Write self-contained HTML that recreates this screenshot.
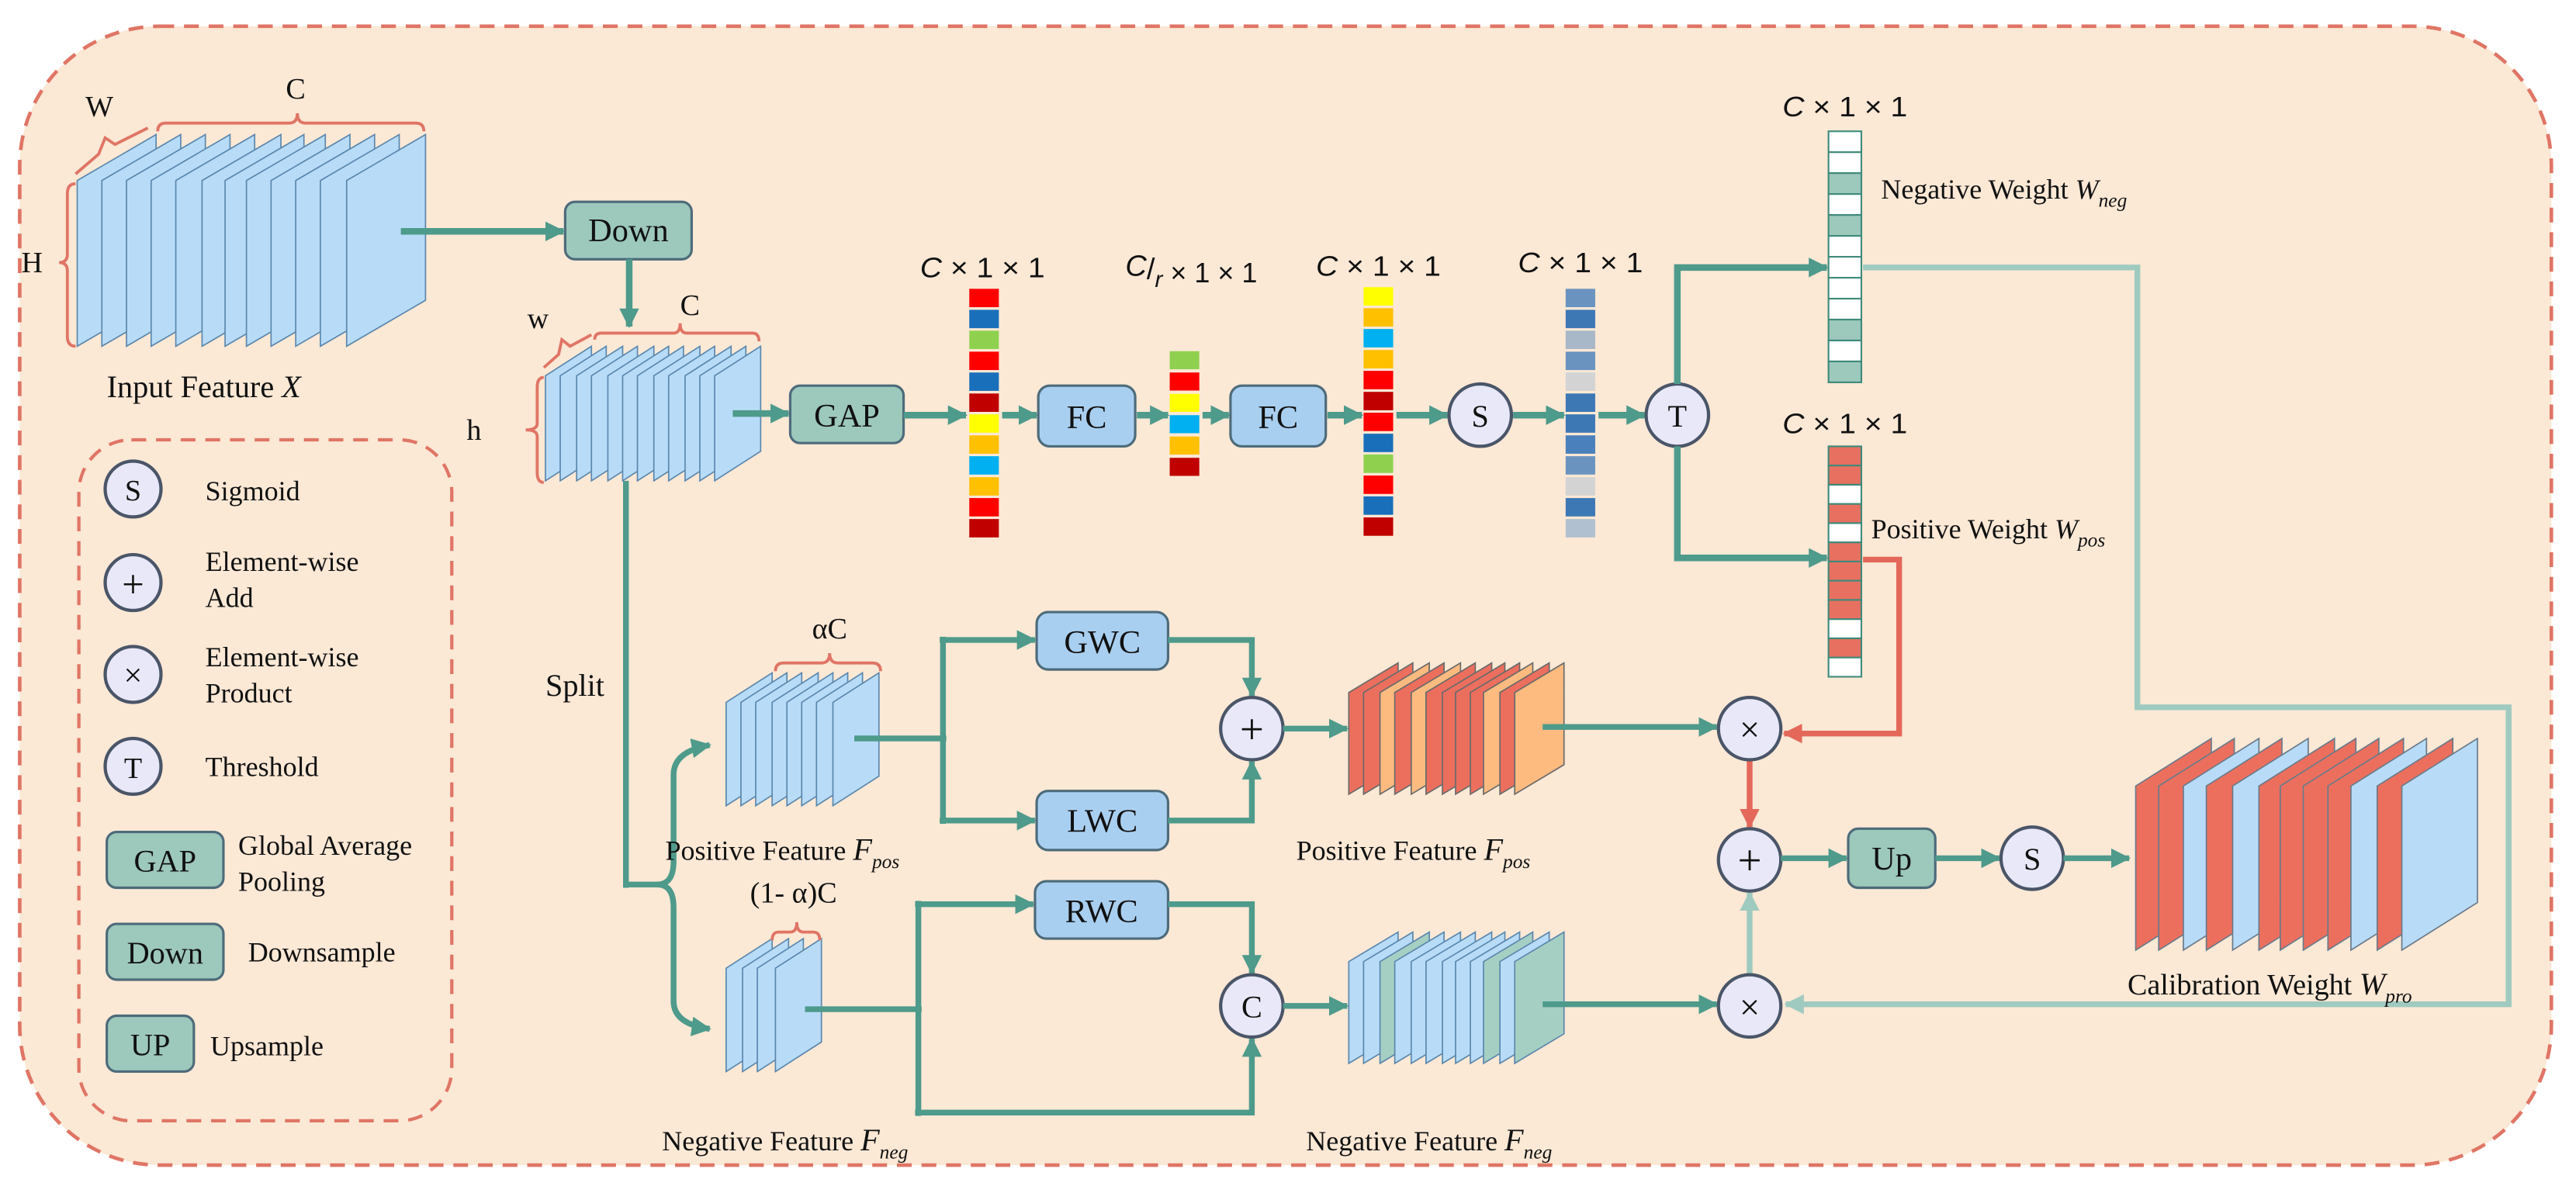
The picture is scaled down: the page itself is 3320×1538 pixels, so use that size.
<!DOCTYPE html>
<html><head><meta charset="utf-8"><style>
html,body{margin:0;padding:0;background:#fff;}
svg{display:block;}
text{font-family:"Liberation Serif","Times New Roman",serif;fill:#111;}
.m{font-family:"Liberation Sans","DejaVu Sans",sans-serif;font-size:17px;}
</style></head><body>
<svg width="3320" height="1538" viewBox="0 0 1568 727" preserveAspectRatio="none" xmlns="http://www.w3.org/2000/svg" font-family="Liberation Serif, serif">
<defs>
<marker id="a" markerWidth="12" markerHeight="12" refX="11" refY="6" orient="auto" markerUnits="userSpaceOnUse"><path d="M0,0 L12,6 L0,12 z" fill="#4e9a8b"/></marker>
<marker id="al" markerWidth="12" markerHeight="12" refX="11" refY="6" orient="auto" markerUnits="userSpaceOnUse"><path d="M0,0 L12,6 L0,12 z" fill="#9fcabf"/></marker>
<marker id="ar" markerWidth="12" markerHeight="12" refX="11" refY="6" orient="auto" markerUnits="userSpaceOnUse"><path d="M0,0 L12,6 L0,12 z" fill="#e4685a"/></marker>
<polygon id="pX" points="47,110 95,82 95,183 47,211" stroke="#5b87ad" stroke-width="0.8"/>
<polygon id="pS" points="332,229 360,211 360,275 332,293" stroke="#5b87ad" stroke-width="0.8"/>
<polygon id="pP" points="442,428 470,410 470,473 442,491" stroke="#5b87ad" stroke-width="0.8"/>
<polygon id="pN" points="442,590 470,572 470,635 442,653" stroke="#5b87ad" stroke-width="0.8"/>
<polygon id="pO" points="821,422 851,404 851,466 821,484" stroke="#6a6a6a" stroke-width="0.8"/>
<polygon id="pQ" points="821,586 851,568 851,630 821,648" stroke="#5b87ad" stroke-width="0.8"/>
<polygon id="pC" points="1300,479 1346,450 1346,550 1300,579" stroke="#6a7a8a" stroke-width="0.8"/>
</defs>
<rect width="1568" height="727" fill="#fff"/>
<rect x="12" y="16" width="1541" height="694" rx="85" fill="#fbe8d5" stroke="#e07565" stroke-width="2.2" stroke-dasharray="9,6"/>
<rect x="48" y="268" width="227" height="415" rx="32" fill="none" stroke="#e07565" stroke-width="2" stroke-dasharray="9,6"/>

<!-- input X -->
<g fill="#b8dcf8">
<use href="#pX"/><use href="#pX" x="15"/><use href="#pX" x="30"/><use href="#pX" x="45"/><use href="#pX" x="60"/><use href="#pX" x="76"/><use href="#pX" x="90"/><use href="#pX" x="103"/><use href="#pX" x="118"/><use href="#pX" x="133"/><use href="#pX" x="148"/><use href="#pX" x="164"/>
</g>
<g fill="none" stroke="#e07565" stroke-width="1.8">
<path d="M46,112 Q41,112 41,118 L41,155 Q41,160 36,160 Q41,160 41,165 L41,205 Q41,211 46,211"/>
<path d="M46,106 L60,94 L64,84 L70,88 L90,78"/>
<path d="M96,80 Q96,75 101,75 L176,75 Q181,75 181,69 Q181,75 186,75 L253,75 Q258,75 258,80"/>
</g>
<text x="13" y="166" font-size="18">H</text>
<text x="52" y="71" font-size="18">W</text>
<text x="174" y="60" font-size="18">C</text>
<text x="65" y="242" font-size="19">Input Feature <tspan font-style="italic">X</tspan></text>

<!-- Down -->
<rect x="344" y="123" width="77" height="35" rx="6" fill="#9dc8bc" stroke="#4d6b7a" stroke-width="1.5"/>
<text x="382.5" y="147" font-size="20" text-anchor="middle">Down</text>
<line x1="244" y1="141" x2="343" y2="141" stroke="#4e9a8b" stroke-width="4" marker-end="url(#a)"/>
<line x1="383" y1="158" x2="383" y2="199" stroke="#4e9a8b" stroke-width="4" marker-end="url(#a)"/>

<!-- small feature -->
<g fill="#b8dcf8">
<use href="#pS"/><use href="#pS" x="9"/><use href="#pS" x="19"/><use href="#pS" x="28"/><use href="#pS" x="38"/><use href="#pS" x="47"/><use href="#pS" x="56"/><use href="#pS" x="66"/><use href="#pS" x="75"/><use href="#pS" x="85"/><use href="#pS" x="94"/><use href="#pS" x="103"/>
</g>
<g fill="none" stroke="#e07565" stroke-width="1.8">
<path d="M331,230 Q327,230 327,236 L327,258 Q327,262 320,262 Q327,262 327,266 L327,288 Q327,294 331,294"/>
<path d="M331,224 L340,216 L342,207 L347,211 L360,204"/>
<path d="M362,207 Q362,203 366,203 L410,203 Q414,203 414,197 Q414,203 418,203 L458,203 Q462,203 462,208"/>
</g>
<text x="284" y="268" font-size="18">h</text>
<text x="321" y="200" font-size="18">w</text>
<text x="414" y="192" font-size="18">C</text>

<!-- GAP -->
<line x1="446" y1="252" x2="480" y2="252" stroke="#4e9a8b" stroke-width="4" marker-end="url(#a)"/>
<rect x="481" y="235" width="69" height="35" rx="6" fill="#9dc8bc" stroke="#4d6b7a" stroke-width="1.5"/>
<text x="515.5" y="260" font-size="20" text-anchor="middle">GAP</text>
<line x1="550" y1="253" x2="588" y2="253" stroke="#4e9a8b" stroke-width="4" marker-end="url(#a)"/>

<!-- vec1 -->
<g>
<rect x="590" y="176" width="18" height="11.2" fill="#ff0000"/>
<rect x="590" y="188.8" width="18" height="11.2" fill="#1a6fba"/>
<rect x="590" y="201.5" width="18" height="11.2" fill="#8fd14f"/>
<rect x="590" y="214.3" width="18" height="11.2" fill="#ff0000"/>
<rect x="590" y="227" width="18" height="11.2" fill="#1a6fba"/>
<rect x="590" y="239.8" width="18" height="11.2" fill="#c00000"/>
<rect x="590" y="252.5" width="18" height="11.2" fill="#ffff00"/>
<rect x="590" y="265.3" width="18" height="11.2" fill="#ffc000"/>
<rect x="590" y="278" width="18" height="11.2" fill="#00b0f0"/>
<rect x="590" y="290.8" width="18" height="11.2" fill="#ffc000"/>
<rect x="590" y="303.5" width="18" height="11.2" fill="#ff0000"/>
<rect x="590" y="316.3" width="18" height="11.2" fill="#c00000"/>
</g>
<text x="560" y="169" class="m" textLength="76" lengthAdjust="spacingAndGlyphs"><tspan font-style="italic">C</tspan> × 1 × 1</text>
<line x1="610" y1="253" x2="631" y2="253" stroke="#4e9a8b" stroke-width="4" marker-end="url(#a)"/>
<rect x="632" y="235" width="59" height="37" rx="7" fill="#a9cff0" stroke="#4d6b7a" stroke-width="1.5"/>
<text x="661.5" y="261" font-size="20" text-anchor="middle">FC</text>
<line x1="692" y1="253" x2="711" y2="253" stroke="#4e9a8b" stroke-width="4" marker-end="url(#a)"/>
<!-- vec2 -->
<rect x="712" y="214" width="18" height="11" fill="#8fd14f"/>
<rect x="712" y="227" width="18" height="11" fill="#ff0000"/>
<rect x="712" y="240" width="18" height="11" fill="#ffff00"/>
<rect x="712" y="253" width="18" height="11" fill="#00b0f0"/>
<rect x="712" y="266" width="18" height="11" fill="#ffc000"/>
<rect x="712" y="279" width="18" height="11" fill="#c00000"/>
<text x="685" y="172" class="m"><tspan font-style="italic" font-size="18" dy="-4">C</tspan><tspan font-size="18" dy="2">/</tspan><tspan font-style="italic" font-size="14" dy="5">r</tspan><tspan dy="-3"> × 1 × 1</tspan></text>
<line x1="732" y1="253" x2="748" y2="253" stroke="#4e9a8b" stroke-width="4" marker-end="url(#a)"/>
<rect x="749" y="235" width="58" height="37" rx="7" fill="#a9cff0" stroke="#4d6b7a" stroke-width="1.5"/>
<text x="778" y="261" font-size="20" text-anchor="middle">FC</text>
<line x1="808" y1="253" x2="829" y2="253" stroke="#4e9a8b" stroke-width="4" marker-end="url(#a)"/>
<!-- vec3 -->
<g>
<rect x="830" y="175" width="18" height="11.2" fill="#ffff00"/>
<rect x="830" y="187.8" width="18" height="11.2" fill="#ffc000"/>
<rect x="830" y="200.5" width="18" height="11.2" fill="#00b0f0"/>
<rect x="830" y="213.3" width="18" height="11.2" fill="#ffc000"/>
<rect x="830" y="226" width="18" height="11.2" fill="#ff0000"/>
<rect x="830" y="238.8" width="18" height="11.2" fill="#c00000"/>
<rect x="830" y="251.5" width="18" height="11.2" fill="#ff0000"/>
<rect x="830" y="264.3" width="18" height="11.2" fill="#1a6fba"/>
<rect x="830" y="277" width="18" height="11.2" fill="#8fd14f"/>
<rect x="830" y="289.8" width="18" height="11.2" fill="#ff0000"/>
<rect x="830" y="302.5" width="18" height="11.2" fill="#1a6fba"/>
<rect x="830" y="315.3" width="18" height="11.2" fill="#c00000"/>
</g>
<text x="801" y="168" class="m" textLength="76" lengthAdjust="spacingAndGlyphs"><tspan font-style="italic">C</tspan> × 1 × 1</text>
<line x1="850" y1="253" x2="881" y2="253" stroke="#4e9a8b" stroke-width="4" marker-end="url(#a)"/>
<circle cx="901" cy="253" r="19" fill="#e8e8f8" stroke="#4a5568" stroke-width="2"/>
<text x="901" y="260" font-size="19" text-anchor="middle">S</text>
<line x1="921" y1="253" x2="952" y2="253" stroke="#4e9a8b" stroke-width="4" marker-end="url(#a)"/>
<!-- vec4 -->
<g>
<rect x="953" y="176" width="18" height="11.2" fill="#6b93c0"/>
<rect x="953" y="188.8" width="18" height="11.2" fill="#3d78b5"/>
<rect x="953" y="201.5" width="18" height="11.2" fill="#a8b8c8"/>
<rect x="953" y="214.3" width="18" height="11.2" fill="#6b93c0"/>
<rect x="953" y="227" width="18" height="11.2" fill="#d3d3d3"/>
<rect x="953" y="239.8" width="18" height="11.2" fill="#3d78b5"/>
<rect x="953" y="252.5" width="18" height="11.2" fill="#3d78b5"/>
<rect x="953" y="265.3" width="18" height="11.2" fill="#4a80bb"/>
<rect x="953" y="278" width="18" height="11.2" fill="#6b93c0"/>
<rect x="953" y="290.8" width="18" height="11.2" fill="#d3d3d3"/>
<rect x="953" y="303.5" width="18" height="11.2" fill="#3d78b5"/>
<rect x="953" y="316.3" width="18" height="11.2" fill="#b0c0d0"/>
</g>
<text x="924" y="166" class="m" textLength="76" lengthAdjust="spacingAndGlyphs"><tspan font-style="italic">C</tspan> × 1 × 1</text>
<line x1="973" y1="253" x2="1001" y2="253" stroke="#4e9a8b" stroke-width="4" marker-end="url(#a)"/>
<circle cx="1021" cy="253" r="19" fill="#e8e8f8" stroke="#4a5568" stroke-width="2"/>
<text x="1021" y="260" font-size="19" text-anchor="middle">T</text>
<polyline points="1021,234 1021,163 1112,163" fill="none" stroke="#4e9a8b" stroke-width="4" marker-end="url(#a)"/>
<polyline points="1021,272 1021,340 1112,340" fill="none" stroke="#4e9a8b" stroke-width="4" marker-end="url(#a)"/>

<!-- light teal route -->
<polyline points="1134,163 1301,163 1301,431 1527,431 1527,612 1087,612" fill="none" stroke="#9fcabf" stroke-width="3.5" marker-end="url(#al)"/>

<!-- neg weight -->
<g stroke="#3f8a7a" stroke-width="1">
<rect x="1113" y="80" width="20" height="12.75" fill="#fff"/>
<rect x="1113" y="92.75" width="20" height="12.75" fill="#fff"/>
<rect x="1113" y="105.5" width="20" height="12.75" fill="#9dc8bc"/>
<rect x="1113" y="118.25" width="20" height="12.75" fill="#fff"/>
<rect x="1113" y="131" width="20" height="12.75" fill="#9dc8bc"/>
<rect x="1113" y="143.75" width="20" height="12.75" fill="#fff"/>
<rect x="1113" y="156.5" width="20" height="12.75" fill="#fff"/>
<rect x="1113" y="169.25" width="20" height="12.75" fill="#fff"/>
<rect x="1113" y="182" width="20" height="12.75" fill="#fff"/>
<rect x="1113" y="194.75" width="20" height="12.75" fill="#9dc8bc"/>
<rect x="1113" y="207.5" width="20" height="12.75" fill="#fff"/>
<rect x="1113" y="220.25" width="20" height="12.75" fill="#9dc8bc"/>
</g>
<text x="1085" y="71" class="m" textLength="76" lengthAdjust="spacingAndGlyphs"><tspan font-style="italic">C</tspan> × 1 × 1</text>
<text x="1145" y="121" font-size="17">Negative Weight <tspan font-style="italic">W</tspan><tspan font-style="italic" font-size="12" dy="5">neg</tspan></text>

<!-- red route -->
<polyline points="1134,341 1156,341 1156,447 1086,447" fill="none" stroke="#e4685a" stroke-width="3.5" marker-end="url(#ar)"/>
<!-- pos weight -->
<g stroke="#3f8a7a" stroke-width="1">
<rect x="1113" y="272" width="20" height="11.7" fill="#e87060"/>
<rect x="1113" y="283.7" width="20" height="11.7" fill="#e87060"/>
<rect x="1113" y="295.4" width="20" height="11.7" fill="#fff"/>
<rect x="1113" y="307.1" width="20" height="11.7" fill="#e87060"/>
<rect x="1113" y="318.8" width="20" height="11.7" fill="#fff"/>
<rect x="1113" y="330.5" width="20" height="11.7" fill="#e87060"/>
<rect x="1113" y="342.2" width="20" height="11.7" fill="#e87060"/>
<rect x="1113" y="353.9" width="20" height="11.7" fill="#e87060"/>
<rect x="1113" y="365.6" width="20" height="11.7" fill="#e87060"/>
<rect x="1113" y="377.3" width="20" height="11.7" fill="#fff"/>
<rect x="1113" y="389" width="20" height="11.7" fill="#e87060"/>
<rect x="1113" y="400.7" width="20" height="11.7" fill="#fff"/>
</g>
<text x="1085" y="264" class="m" textLength="76" lengthAdjust="spacingAndGlyphs"><tspan font-style="italic">C</tspan> × 1 × 1</text>
<text x="1139" y="328" font-size="17">Positive Weight <tspan font-style="italic">W</tspan><tspan font-style="italic" font-size="12" dy="5">pos</tspan></text>

<!-- split -->
<line x1="381" y1="293" x2="381" y2="541" stroke="#4e9a8b" stroke-width="3.5"/>
<path d="M381,539 L400,539 Q410,539 410,525 L410,472 Q410,458 432,454" fill="none" stroke="#4e9a8b" stroke-width="3.5" marker-end="url(#a)"/>
<path d="M400,539 Q410,539 410,553 L410,610 Q410,624 432,627" fill="none" stroke="#4e9a8b" stroke-width="3.5" marker-end="url(#a)"/>
<text x="332" y="424" font-size="19">Split</text>

<!-- pos input -->
<g fill="#b8dcf8">
<use href="#pP"/><use href="#pP" x="9"/><use href="#pP" x="18"/><use href="#pP" x="28"/><use href="#pP" x="37"/><use href="#pP" x="46"/><use href="#pP" x="55"/><use href="#pP" x="65"/>
</g>
<path d="M472,409 Q472,404 477,404 L500,404 Q505,404 505,398 Q505,404 510,404 L531,404 Q536,404 536,409" fill="none" stroke="#e07565" stroke-width="1.8"/>
<text x="505" y="389" font-size="18" text-anchor="middle">αC</text>
<text x="405" y="524" font-size="17">Positive Feature <tspan font-style="italic" font-size="19">F</tspan><tspan font-style="italic" font-size="12" dy="5">pos</tspan></text>
<line x1="520" y1="450" x2="576" y2="450" stroke="#4e9a8b" stroke-width="3.5"/>
<line x1="574" y1="388" x2="574" y2="502" stroke="#4e9a8b" stroke-width="3.5"/>
<line x1="572" y1="390" x2="630" y2="390" stroke="#4e9a8b" stroke-width="3.5" marker-end="url(#a)"/>
<line x1="572" y1="500" x2="630" y2="500" stroke="#4e9a8b" stroke-width="3.5" marker-end="url(#a)"/>
<rect x="631" y="373" width="80" height="35" rx="7" fill="#a9cff0" stroke="#4d6b7a" stroke-width="1.5"/>
<text x="671" y="398" font-size="20" text-anchor="middle">GWC</text>
<rect x="631" y="482" width="80" height="36" rx="7" fill="#a9cff0" stroke="#4d6b7a" stroke-width="1.5"/>
<text x="671" y="507" font-size="20" text-anchor="middle">LWC</text>
<polyline points="711,390 762,390 762,424" fill="none" stroke="#4e9a8b" stroke-width="3.5" marker-end="url(#a)"/>
<polyline points="711,500 762,500 762,464" fill="none" stroke="#4e9a8b" stroke-width="3.5" marker-end="url(#a)"/>
<circle cx="762" cy="444" r="19" fill="#e8e8f8" stroke="#4a5568" stroke-width="2"/>
<text x="762" y="453" font-size="26" text-anchor="middle">+</text>
<line x1="781" y1="444" x2="820" y2="444" stroke="#4e9a8b" stroke-width="3.5" marker-end="url(#a)"/>
<g>
<use href="#pO" fill="#ec6f5e"/><use href="#pO" x="9" fill="#ec6f5e"/><use href="#pO" x="19" fill="#fdbb80"/><use href="#pO" x="28" fill="#ec6f5e"/><use href="#pO" x="38" fill="#fdbb80"/><use href="#pO" x="47" fill="#ec6f5e"/><use href="#pO" x="57" fill="#ec6f5e"/><use href="#pO" x="65" fill="#ec6f5e"/><use href="#pO" x="74" fill="#ec6f5e"/><use href="#pO" x="82" fill="#fdbb80"/><use href="#pO" x="92" fill="#ec6f5e"/><use href="#pO" x="101" fill="#fdbb80"/>
</g>
<text x="789" y="524" font-size="17">Positive Feature <tspan font-style="italic" font-size="19">F</tspan><tspan font-style="italic" font-size="12" dy="5">pos</tspan></text>
<line x1="939" y1="443" x2="1045" y2="443" stroke="#4e9a8b" stroke-width="3.5" marker-end="url(#a)"/>

<!-- neg input -->
<g fill="#b8dcf8">
<use href="#pN"/><use href="#pN" x="10"/><use href="#pN" x="19"/><use href="#pN" x="30"/>
</g>
<path d="M470,573 Q470,568 474,568 L481,568 Q485,568 485,562 Q485,568 489,568 L495,568 Q499,568 499,573" fill="none" stroke="#e07565" stroke-width="1.8"/>
<text x="483" y="550" font-size="18" text-anchor="middle">(1- α)C</text>
<text x="403" y="701" font-size="17">Negative Feature <tspan font-style="italic" font-size="19">F</tspan><tspan font-style="italic" font-size="12" dy="5">neg</tspan></text>
<line x1="490" y1="615" x2="561" y2="615" stroke="#4e9a8b" stroke-width="3.5"/>
<line x1="559" y1="549" x2="559" y2="680" stroke="#4e9a8b" stroke-width="3.5"/>
<line x1="557" y1="551" x2="629" y2="551" stroke="#4e9a8b" stroke-width="3.5" marker-end="url(#a)"/>
<polyline points="557,678 762,678 762,633" fill="none" stroke="#4e9a8b" stroke-width="3.5" marker-end="url(#a)"/>
<rect x="630" y="537" width="81" height="35" rx="7" fill="#a9cff0" stroke="#4d6b7a" stroke-width="1.5"/>
<text x="670.5" y="562" font-size="20" text-anchor="middle">RWC</text>
<polyline points="711,551 762,551 762,593" fill="none" stroke="#4e9a8b" stroke-width="3.5" marker-end="url(#a)"/>
<circle cx="762" cy="613" r="19" fill="#e8e8f8" stroke="#4a5568" stroke-width="2"/>
<text x="762" y="620" font-size="19" text-anchor="middle">C</text>
<line x1="781" y1="613" x2="820" y2="613" stroke="#4e9a8b" stroke-width="3.5" marker-end="url(#a)"/>
<g>
<use href="#pQ" fill="#b8dcf8"/><use href="#pQ" x="9" fill="#b8dcf8"/><use href="#pQ" x="19" fill="#a6cfc4"/><use href="#pQ" x="28" fill="#b8dcf8"/><use href="#pQ" x="38" fill="#b8dcf8"/><use href="#pQ" x="47" fill="#b8dcf8"/><use href="#pQ" x="57" fill="#b8dcf8"/><use href="#pQ" x="65" fill="#b8dcf8"/><use href="#pQ" x="74" fill="#b8dcf8"/><use href="#pQ" x="82" fill="#a6cfc4"/><use href="#pQ" x="92" fill="#b8dcf8"/><use href="#pQ" x="101" fill="#a6cfc4"/>
</g>
<text x="795" y="701" font-size="17">Negative Feature <tspan font-style="italic" font-size="19">F</tspan><tspan font-style="italic" font-size="12" dy="5">neg</tspan></text>
<line x1="939" y1="612" x2="1045" y2="612" stroke="#4e9a8b" stroke-width="3.5" marker-end="url(#a)"/>

<!-- right fusion -->
<line x1="1065" y1="463" x2="1065" y2="504" stroke="#e4685a" stroke-width="3.5" marker-end="url(#ar)"/>
<line x1="1065" y1="593" x2="1065" y2="544" stroke="#9fcabf" stroke-width="3.5" marker-end="url(#al)"/>
<circle cx="1065" cy="444" r="19" fill="#e8e8f8" stroke="#4a5568" stroke-width="2"/>
<text x="1065" y="452" font-size="22" text-anchor="middle">×</text>
<circle cx="1065" cy="524" r="19" fill="#e8e8f8" stroke="#4a5568" stroke-width="2"/>
<text x="1065" y="533" font-size="26" text-anchor="middle">+</text>
<circle cx="1065" cy="613" r="19" fill="#e8e8f8" stroke="#4a5568" stroke-width="2"/>
<text x="1065" y="621" font-size="22" text-anchor="middle">×</text>
<line x1="1084" y1="523" x2="1124" y2="523" stroke="#4e9a8b" stroke-width="3.5" marker-end="url(#a)"/>
<rect x="1125" y="505" width="53" height="36" rx="6" fill="#9dc8bc" stroke="#4d6b7a" stroke-width="1.5"/>
<text x="1151.5" y="530" font-size="20" text-anchor="middle">Up</text>
<line x1="1178" y1="523" x2="1217" y2="523" stroke="#4e9a8b" stroke-width="3.5" marker-end="url(#a)"/>
<circle cx="1237" cy="523" r="19" fill="#e8e8f8" stroke="#4a5568" stroke-width="2"/>
<text x="1237" y="530" font-size="19" text-anchor="middle">S</text>
<line x1="1256" y1="523" x2="1296" y2="523" stroke="#4e9a8b" stroke-width="3.5" marker-end="url(#a)"/>
<g>
<use href="#pC" fill="#ec6f5e"/><use href="#pC" x="14" fill="#ec6f5e"/><use href="#pC" x="29" fill="#b8dcf8"/><use href="#pC" x="43" fill="#ec6f5e"/><use href="#pC" x="59" fill="#b8dcf8"/><use href="#pC" x="75" fill="#ec6f5e"/><use href="#pC" x="88" fill="#ec6f5e"/><use href="#pC" x="102" fill="#ec6f5e"/><use href="#pC" x="117" fill="#ec6f5e"/><use href="#pC" x="131" fill="#b8dcf8"/><use href="#pC" x="147" fill="#ec6f5e"/><use href="#pC" x="162" fill="#b8dcf8"/>
</g>
<text x="1295" y="606" font-size="18">Calibration Weight <tspan font-style="italic" font-size="19">W</tspan><tspan font-style="italic" font-size="12" dy="5">pro</tspan></text>

<!-- legend -->
<circle cx="81" cy="298" r="17" fill="#e8e8f8" stroke="#4a5568" stroke-width="2"/>
<text x="81" y="305" font-size="18" text-anchor="middle">S</text>
<text x="125" y="305" font-size="17">Sigmoid</text>
<circle cx="81" cy="355" r="17" fill="#e8e8f8" stroke="#4a5568" stroke-width="2"/>
<text x="81" y="364" font-size="24" text-anchor="middle">+</text>
<text x="125" y="348" font-size="17">Element-wise</text>
<text x="125" y="370" font-size="17">Add</text>
<circle cx="81" cy="411" r="17" fill="#e8e8f8" stroke="#4a5568" stroke-width="2"/>
<text x="81" y="418" font-size="20" text-anchor="middle">×</text>
<text x="125" y="406" font-size="17">Element-wise</text>
<text x="125" y="428" font-size="17">Product</text>
<circle cx="81" cy="467" r="17" fill="#e8e8f8" stroke="#4a5568" stroke-width="2"/>
<text x="81" y="474" font-size="18" text-anchor="middle">T</text>
<text x="125" y="473" font-size="17">Threshold</text>
<rect x="65" y="507" width="71" height="34" rx="6" fill="#9dc8bc" stroke="#4d6b7a" stroke-width="1.5"/>
<text x="100.5" y="531" font-size="19" text-anchor="middle">GAP</text>
<text x="145" y="521" font-size="17">Global Average</text>
<text x="145" y="543" font-size="17">Pooling</text>
<rect x="65" y="563" width="71" height="34" rx="6" fill="#9dc8bc" stroke="#4d6b7a" stroke-width="1.5"/>
<text x="100.5" y="587" font-size="19" text-anchor="middle">Down</text>
<text x="151" y="586" font-size="17">Downsample</text>
<rect x="65" y="619" width="53" height="34" rx="6" fill="#9dc8bc" stroke="#4d6b7a" stroke-width="1.5"/>
<text x="91.5" y="643" font-size="19" text-anchor="middle">UP</text>
<text x="128" y="643" font-size="17">Upsample</text>
</svg>
</body></html>
